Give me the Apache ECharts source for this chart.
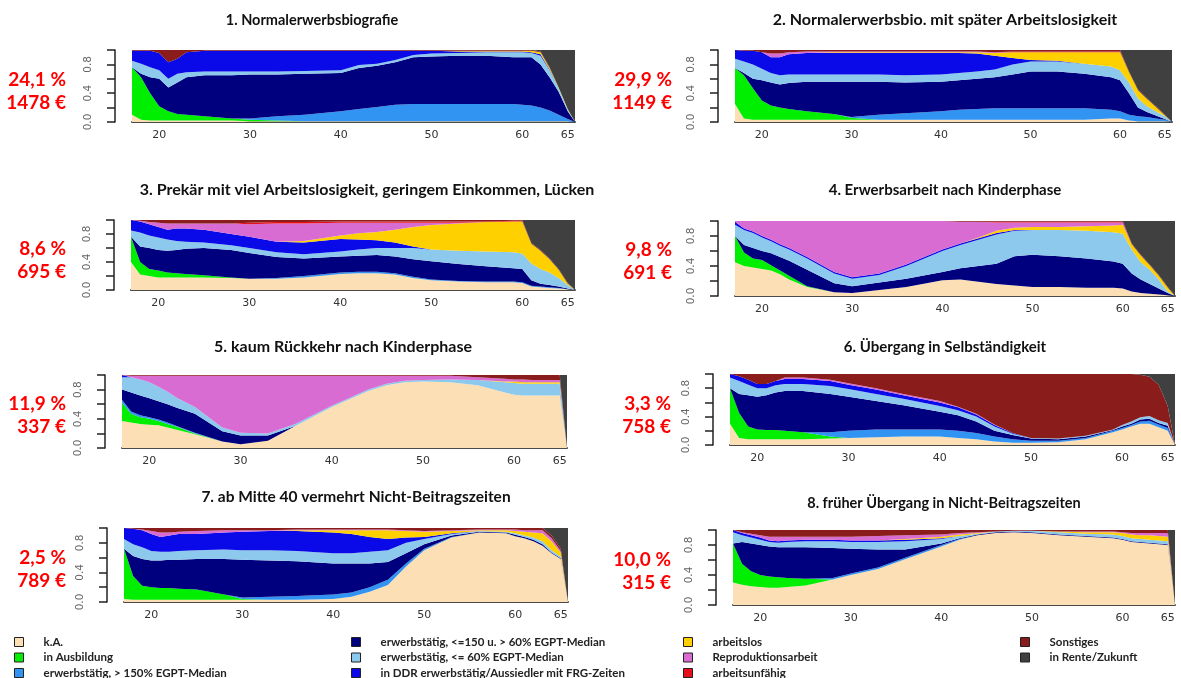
<!DOCTYPE html>
<html><head><meta charset="utf-8">
<script src="https://cdn.jsdelivr.net/npm/echarts@6/dist/echarts.min.js"></script>
<style>html,body{margin:0;padding:0;background:#fff}#c{width:1181px;height:678px}</style>
</head><body><div id="c"></div>
<script>
// Age grid (years), shared by all panels
const ages = [17,18,19,20,21,22,23,25,28,30,33,36,40,42,44,46,48,50,53,56,59,60,61,62,63,64,65,65.8];
const xTickLabels = [20,30,40,50,60,65];
const yTickLabels = [0,0.4,0.8];
const yTicks = [0,0.2,0.4,0.6,0.8,1];

const states = ['k.A.','in Ausbildung','erwerbstätig, > 150% EGPT-Median','erwerbstätig, <=150 u. > 60% EGPT-Median','erwerbstätig, <= 60% EGPT-Median','in DDR erwerbstätig/Aussiedler mit FRG-Zeiten','arbeitslos','Reproduktionsarbeit','arbeitsunfähig','Sonstiges','in Rente/Zukunft'];
const stateColors = ['#FCDFB4','#00EE00','#3193F2','#00007F','#8CC9EC','#0A0AE8','#FFD000','#D86CD2','#E8101A','#8B1C1C','#404040'];

const titles = ['1. Normalerwerbsbiografie','2. Normalerwerbsbio. mit später Arbeitslosigkeit','3. Prekär mit viel Arbeitslosigkeit, geringem Einkommen, Lücken','4. Erwerbsarbeit nach Kinderphase','5. kaum Rückkehr nach Kinderphase','6. Übergang in Selbständigkeit','7. ab Mitte 40 vermehrt Nicht-Beitragszeiten','8. früher Übergang in Nicht-Beitragszeiten'];
const shares = ['24,1 %','29,9 %','8,6 %','9,8 %','11,9 %','3,3 %','2,5 %','10,0 %'];
const pensions = ['1478 €','1149 €','695 €','691 €','337 €','758 €','789 €','315 €'];

// State shares per age, in the order of `states` (null = state absent)
const P1 = [
 [.10,.03,.02,.02,.02,.02,.02,.02,.02,.01,.01,.01,.01,.01,.01,.01,.01,.01,.01,.01,.01,.01,.01,.01,.01,.01,.01,0],
 [.66,.59,.38,.20,.13,.09,.08,.06,.03,.02,.01,0,0,0,0,0,0,0,0,0,0,0,0,0,0,0,0,0],
 [0,0,0,0,0,0,0,0,0,.02,.06,.09,.14,.17,.20,.23,.24,.24,.24,.24,.24,.23,.22,.19,.15,.09,.03,0],
 [0,.05,.22,.38,.33,.44,.52,.57,.60,.61,.58,.57,.53,.57,.57,.59,.65,.66,.67,.67,.65,.66,.67,.60,.46,.32,.11,0],
 [.09,.14,.14,.12,.12,.12,.07,.05,.05,.04,.04,.04,.04,.04,.03,.03,.03,.04,.04,.05,.07,.07,.06,.12,.10,.05,.02,0],
 [.14,.18,.23,.24,.23,.21,.28,.29,.29,.29,.29,.28,.27,.20,.18,.13,.06,.04,.02,.01,.01,.01,.01,.02,.01,0,0,0],
 [0,0,0,0,0,0,0,0,0,0,0,0,0,0,0,0,0,0,.01,.01,.01,.01,.02,.03,.02,.01,.01,0],
 null,
 null,
 [.01,.01,.01,.04,.17,.12,.03,.01,.01,.01,.01,.01,.01,.01,.01,.01,.01,.01,.01,.01,.01,.01,.01,.01,.01,0,0,0],
 [0,0,0,0,0,0,0,0,0,0,0,0,0,0,0,0,0,0,0,0,0,0,0,.02,.24,.52,.82,1]
];
const P2 = [
 [.25,.05,.03,.03,.03,.03,.03,.03,.03,.03,.03,.03,.03,.03,.03,.03,.03,.03,.03,.03,.05,.05,.02,.01,.01,.01,.01,0],
 [.50,.60,.44,.27,.20,.17,.15,.12,.08,.03,0,0,0,0,0,0,0,0,0,0,0,0,0,0,0,0,0,0],
 [0,0,0,0,0,0,0,0,0,.01,.07,.09,.12,.14,.15,.16,.16,.16,.16,.16,.12,.10,.08,.07,.06,.04,.02,0],
 [0,.03,.13,.28,.32,.32,.36,.41,.45,.49,.46,.43,.41,.41,.42,.43,.47,.51,.51,.48,.45,.43,.30,.12,.07,.04,.01,0],
 [.13,.16,.20,.16,.13,.13,.12,.10,.10,.10,.10,.10,.10,.10,.10,.11,.14,.14,.14,.14,.15,.14,.15,.13,.08,.06,.04,0],
 [.12,.15,.19,.23,.22,.25,.28,.30,.30,.30,.30,.31,.30,.28,.25,.19,.09,.02,.01,0,0,0,0,0,0,0,0,0],
 [0,0,0,0,0,0,0,0,.01,.01,.01,.01,.01,.01,.02,.04,.08,.11,.12,.16,.20,.25,.14,.11,.10,.06,.01,0],
 [0,0,0,0,.05,.05,.03,.02,.01,.01,.01,.01,.01,.01,.01,.01,0,0,0,0,0,0,0,0,0,0,0,0],
 [0,0,0,0,0,0,0,0,0,0,0,0,0,0,0,0,.01,.01,.01,.01,.01,.01,0,0,0,0,0,0],
 [0,.01,.01,.03,.05,.05,.03,.02,.02,.02,.02,.02,.02,.02,.02,.03,.02,.02,.02,.02,.02,.02,.01,.01,.01,.01,.01,0],
 [0,0,0,0,0,0,0,0,0,0,0,0,0,0,0,0,0,0,0,0,0,0,.30,.55,.67,.78,.90,1]
];
const P3 = [
 [.40,.22,.20,.18,.18,.18,.18,.18,.17,.16,.16,.18,.23,.24,.24,.22,.17,.14,.12,.11,.11,.10,.05,.04,.03,.02,.01,0],
 [.36,.18,.10,.10,.07,.06,.05,.03,.01,0,0,0,0,0,0,0,0,0,0,0,0,0,0,0,0,0,0,0],
 [0,0,0,0,0,0,0,0,0,0,.01,.02,.02,.02,.02,.02,.02,.01,.01,.01,.01,.01,.01,.01,.01,.01,0,0],
 [0,.22,.30,.29,.31,.33,.36,.39,.39,.37,.30,.25,.23,.23,.24,.24,.25,.26,.24,.22,.19,.19,.08,.04,.03,.02,.01,0],
 [.09,.20,.18,.18,.16,.13,.10,.08,.07,.07,.07,.06,.07,.09,.10,.12,.16,.17,.19,.21,.23,.22,.24,.21,.18,.12,.05,0],
 [.15,.16,.16,.15,.14,.18,.19,.18,.16,.16,.15,.17,.18,.14,.11,.08,.02,0,0,0,0,0,0,0,0,0,0,0],
 [0,0,0,0,0,0,0,0,0,0,0,.02,.05,.09,.12,.18,.28,.35,.39,.42,.44,.46,.28,.26,.19,.12,.02,0],
 [0,.01,.03,.06,.09,.07,.07,.09,.15,.18,.26,.25,.18,.15,.13,.10,.06,.03,.01,0,0,0,0,0,0,0,0,0],
 [0,0,0,0,0,0,0,0,0,.02,.02,.02,.02,.02,.02,.02,.02,.02,.02,.01,.01,.01,0,0,0,0,0,0],
 [0,.01,.03,.04,.05,.05,.05,.05,.05,.04,.03,.03,.02,.02,.02,.02,.02,.02,.02,.02,.01,.01,.01,.01,.01,.01,.01,0],
 [0,0,0,0,0,0,0,0,0,0,0,0,0,0,0,0,0,0,0,0,0,0,.33,.43,.55,.70,.90,1]
];
const P4 = [
 [.45,.40,.38,.36,.34,.29,.22,.12,.05,.04,.08,.12,.21,.22,.19,.16,.14,.12,.12,.11,.11,.10,.06,.04,.03,.02,.01,0],
 [.35,.18,.12,.12,.07,.05,.05,.01,0,0,0,0,0,0,0,0,0,0,0,0,0,0,0,0,0,0,0,0],
 null,
 [0,.10,.14,.12,.16,.18,.20,.22,.12,.09,.10,.11,.11,.15,.21,.27,.39,.43,.41,.39,.35,.33,.24,.18,.13,.08,.03,0],
 [.15,.20,.20,.18,.16,.15,.15,.15,.13,.10,.10,.17,.28,.31,.35,.39,.34,.33,.35,.37,.39,.40,.32,.23,.19,.12,.02,0],
 [.04,.02,.02,.02,.02,.02,.02,.02,.02,.02,.02,.02,.02,.02,.02,.02,.01,0,0,0,0,0,0,0,0,0,0,0],
 [0,0,0,0,0,0,0,0,0,0,0,0,0,0,.01,.03,.03,.04,.04,.06,.09,.12,.07,.09,.06,.05,.05,0],
 [.01,.10,.14,.20,.25,.31,.36,.48,.68,.75,.70,.58,.38,.29,.21,.11,.07,.06,.06,.05,.04,.03,0,0,0,0,0,0],
 [0,0,0,0,0,0,0,0,0,0,0,0,0,0,0,.01,.01,.01,.01,.01,.01,.01,0,0,0,0,0,0],
 [0,0,0,0,0,0,0,0,0,0,0,0,0,.01,.01,.01,.01,.01,.01,.01,.01,.01,.01,.01,.01,.01,.01,0],
 [0,0,0,0,0,0,0,0,0,0,0,0,0,0,0,0,0,0,0,0,0,0,.30,.45,.58,.72,.88,1]
];
const P5 = [
 [.37,.35,.33,.32,.31,.28,.25,.19,.09,.05,.10,.30,.56,.67,.78,.86,.90,.91,.90,.86,.76,.73,.72,.72,.72,.72,.72,0],
 [.25,.12,.09,.08,.06,.05,.04,.01,0,0,0,0,0,0,0,0,0,0,0,0,0,0,0,0,0,0,0,0],
 [.04,.03,.03,.02,.02,.02,.01,.01,0,0,0,0,0,0,0,0,0,0,0,0,0,0,0,0,0,0,0,0],
 [.14,.26,.27,.26,.25,.25,.25,.26,.14,.12,.07,0,0,0,0,0,0,0,0,0,0,0,0,0,0,0,0,0],
 [.17,.21,.22,.22,.20,.17,.14,.09,.05,.04,.03,.03,.02,.02,.02,.02,.02,.02,.04,.07,.14,.16,.16,.16,.16,.16,.16,0],
 [.03,0,0,0,0,0,0,0,0,0,0,0,0,0,0,0,0,0,0,0,0,0,0,0,0,0,0,0],
 [0,0,0,0,0,0,0,0,0,0,0,0,0,0,0,0,0,0,0,0,.01,.02,.02,.02,.02,.02,.02,0],
 [0,.02,.05,.09,.15,.22,.30,.43,.71,.78,.79,.66,.41,.30,.19,.11,.07,.06,.05,.04,.04,.03,.04,.03,.03,.03,.03,0],
 null,
 [0,.01,.01,.01,.01,.01,.01,.01,.01,.01,.01,.01,.01,.01,.01,.01,.01,.01,.01,.03,.05,.06,.06,.07,.07,.07,.07,0],
 [0,0,0,0,0,0,0,0,0,0,0,0,0,0,0,0,0,0,0,0,0,0,0,0,0,0,0,1]
];
const P6 = [
 [.30,.10,.08,.08,.08,.08,.08,.08,.09,.10,.11,.12,.12,.10,.08,.05,.03,.03,.04,.08,.18,.22,.26,.30,.30,.25,.20,0],
 [.50,.35,.18,.14,.13,.13,.12,.10,.03,0,0,0,0,0,0,0,0,0,0,0,0,0,0,0,0,0,0,0],
 [0,0,0,0,0,0,0,0,.06,.10,.11,.10,.10,.10,.09,.07,.05,.03,.02,.02,.02,.02,.02,.03,.04,.04,.04,0],
 [0,.27,.44,.46,.49,.53,.56,.58,.54,.48,.40,.34,.25,.22,.16,.08,.06,.03,.02,.02,.01,.02,.02,.03,.03,.02,.03,0],
 [.15,.18,.15,.12,.10,.10,.10,.10,.11,.11,.10,.09,.08,.07,.07,.06,.02,.01,.01,.01,.01,.02,.03,.03,.04,.04,.04,0],
 [.05,.07,.07,.06,.06,.06,.07,.07,.07,.06,.06,.05,.05,.04,.03,.02,.01,0,0,0,0,0,0,0,0,0,0,0],
 null,
 [0,0,0,0,0,0,.02,.02,.02,.02,.02,.02,.02,.01,.01,.01,0,0,0,0,0,0,0,0,0,0,0,0],
 null,
 [0,.03,.08,.14,.14,.10,.05,.05,.08,.13,.20,.28,.38,.46,.56,.71,.83,.90,.91,.87,.78,.72,.67,.60,.55,.50,.24,0],
 [0,0,0,0,0,0,0,0,0,0,0,0,0,0,0,0,0,0,0,0,0,0,0,.01,.04,.15,.45,1]
];
const P7 = [
 [.04,.03,.03,.03,.03,.03,.03,.03,.03,.03,.03,.03,.04,.07,.14,.23,.48,.70,.87,.94,.93,.89,.86,.82,.76,.66,.58,0],
 [.68,.32,.19,.17,.16,.16,.15,.14,.07,.01,0,0,0,0,0,0,0,0,0,0,0,0,0,0,0,0,0,0],
 [0,0,0,0,0,0,0,0,0,.02,.04,.05,.06,.06,.06,.07,.04,.02,.01,0,0,0,0,0,0,0,0,0],
 [0,.27,.36,.36,.37,.38,.39,.41,.48,.51,.49,.47,.42,.39,.32,.24,.14,.06,.02,.01,.01,.02,.02,.02,.02,.01,.01,0],
 [.13,.16,.16,.13,.12,.11,.12,.12,.13,.13,.14,.14,.14,.14,.16,.16,.14,.07,.02,.01,.01,.02,.02,.03,.04,.03,.02,0],
 [.15,.21,.23,.23,.20,.22,.23,.22,.23,.25,.26,.27,.28,.26,.20,.15,.07,.03,.01,0,0,0,0,0,0,0,0,0],
 [0,0,0,0,0,0,0,0,0,0,0,.01,.03,.05,.09,.12,.09,.07,.03,.01,.02,.03,.05,.07,.11,.12,.06,0],
 [0,0,.01,.04,.06,.04,.03,.04,.03,.02,.01,.01,.01,.01,.01,.01,.01,.01,.01,.01,.01,.02,.02,.03,.04,.04,.02,0],
 null,
 [0,.01,.02,.04,.06,.06,.05,.04,.03,.03,.03,.02,.02,.02,.02,.02,.03,.04,.03,.02,.02,.02,.03,.03,.03,.04,.03,0],
 [0,0,0,0,0,0,0,0,0,0,0,0,0,0,0,0,0,0,0,0,0,0,0,0,0,.10,.28,1]
];
const P8 = [
 [.30,.27,.25,.24,.23,.23,.24,.26,.34,.40,.48,.61,.78,.87,.93,.96,.97,.96,.93,.91,.89,.87,.84,.83,.82,.81,.80,0],
 [.52,.28,.20,.16,.15,.14,.12,.09,0,0,0,0,0,0,0,0,0,0,0,0,0,0,0,0,0,0,0,0],
 [0,0,0,0,0,0,0,0,.02,.02,.02,.02,.02,.01,0,0,0,0,0,0,0,0,0,0,0,0,0,0],
 [0,.29,.37,.40,.40,.40,.41,.42,.40,.33,.24,.11,.02,.01,.01,.01,.01,.01,.01,.01,.01,.01,.01,.01,.01,.01,.01,0],
 [.15,.09,.08,.07,.06,.06,.07,.08,.09,.09,.10,.11,.06,.03,.01,.01,.01,.02,.03,.03,.04,.04,.04,.04,.04,.04,.04,0],
 [.03,.03,.03,.03,.02,.02,.02,.02,.02,.02,.02,.02,.01,0,0,0,0,0,0,0,0,0,0,0,0,0,0,0],
 [0,0,0,0,0,0,0,0,0,0,0,.01,.02,.02,.01,0,0,0,.01,.02,.03,.04,.05,.05,.06,.06,.06,0],
 [0,.01,.02,.03,.05,.06,.05,.04,.04,.05,.06,.05,.03,.02,.01,0,0,0,0,.01,.01,.01,.02,.03,.03,.04,.05,0],
 null,
 [0,.03,.05,.07,.09,.09,.09,.09,.09,.09,.08,.07,.06,.04,.03,.02,.01,.01,.02,.02,.02,.03,.04,.04,.04,.04,.04,0],
 [0,0,0,0,0,0,0,0,0,0,0,0,0,0,0,0,0,0,0,0,0,0,0,0,0,0,0,1]
];
const panels = [P1,P2,P3,P4,P5,P6,P7,P8];

// Layout (px): plot rectangles, title positions/sizes, label positions
const gridBoxes = [
 {left:132, top:50, width:443, height:72},
 {left:735, top:50, width:437, height:72},
 {left:131, top:220, width:444, height:70},
 {left:735, top:221, width:440, height:75},
 {left:122, top:375, width:445, height:73},
 {left:730, top:374, width:445, height:71},
 {left:124, top:528, width:444, height:74},
 {left:733, top:530, width:442, height:75}
];
const titlePos = [[312,20],[945,20],[367,190],[945,190],[343,347],[945,347],[356,497],[944,503]];
const titleSize = [14.5,16,16,15,16,15,15.5,14.5];
const labelPos = [[66,80],[672,80],[66,249],[672,250],[66,404],[671,404],[66,558],[671,560]];

const chart = echarts.init(document.getElementById('c'), null, {renderer:'canvas'});
const grid = [], xAxis = [], yAxis = [], series = [], graphic = [];
gridBoxes.forEach((g, p) => {
  grid.push(Object.assign({containLabel:false}, g));
  xAxis.push({type:'value', gridIndex:p, min:17, max:65.8,
    axisLine:{show:true, onZero:false, lineStyle:{color:'#4a4a4a', width:2}},
    axisTick:{show:false}, splitLine:{show:false},
    axisLabel:{customValues:xTickLabels, color:'#333', fontSize:11, margin:8, fontFamily:'DejaVu Sans'}});
  yAxis.push({type:'value', gridIndex:p, min:0, max:1, offset:17,
    axisLine:{show:true, lineStyle:{color:'#222', width:1.5}},
    axisTick:{show:true, length:8, customValues:yTicks, lineStyle:{color:'#222', width:1.5}},
    axisLabel:{customValues:yTickLabels, rotate:90, margin:21, color:'#666', fontSize:10.5, fontFamily:'DejaVu Sans',
      formatter:v=>Number(v).toFixed(1)},
    splitLine:{show:false}});
  panels[p].forEach((vals, s) => {
    if (!vals) return;
    // data column 0 = share (stacked, y), column 1 = age (x)
    series.push({type:'line', name:states[s], xAxisIndex:p, yAxisIndex:p, stack:'panel'+p,
      encode:{x:1, y:0},
      data:ages.map((a,i)=>[vals[i], a]), symbol:'none', showSymbol:false,
      lineStyle:{width:0}, itemStyle:{color:stateColors[s]},
      areaStyle:{color:stateColors[s], opacity:1}, silent:true, animation:false, z:2});
  });
  graphic.push({type:'text', x:titlePos[p][0], y:titlePos[p][1],
    style:{text:titles[p], fill:'#111', font:'bold '+titleSize[p]+'px Lato', textAlign:'center', textVerticalAlign:'middle'}});
  graphic.push({type:'text', x:labelPos[p][0], y:labelPos[p][1],
    style:{text:shares[p], fill:'#FF0000', font:'bold 19px Lato', textAlign:'right', textVerticalAlign:'middle'}});
  graphic.push({type:'text', x:labelPos[p][0], y:labelPos[p][1]+23,
    style:{text:pensions[p], fill:'#FF0000', font:'bold 19px Lato', textAlign:'right', textVerticalAlign:'middle'}});
});

const legendCols = [[0,1,2],[3,4,5],[6,7,8],[9,10]];
const legendLeft = [14,351,683,1020];
const legend = legendCols.map((col, k) => ({
  orient:'vertical', left:legendLeft[k], top:636, height:60, padding:0, itemWidth:9, itemHeight:9, itemGap:3.5,
  icon:'rect', selectedMode:false,
  itemStyle:{borderColor:'#222', borderWidth:1},
  textStyle:{fontFamily:'Lato', fontWeight:'bold', fontSize:11.5, color:'#222', padding:[0,0,0,15], lineHeight:12},
  data:col.map(s => states[s])
}));

chart.setOption({animation:false, backgroundColor:'#fff', grid, xAxis, yAxis, series, legend, graphic});
</script></body></html>
